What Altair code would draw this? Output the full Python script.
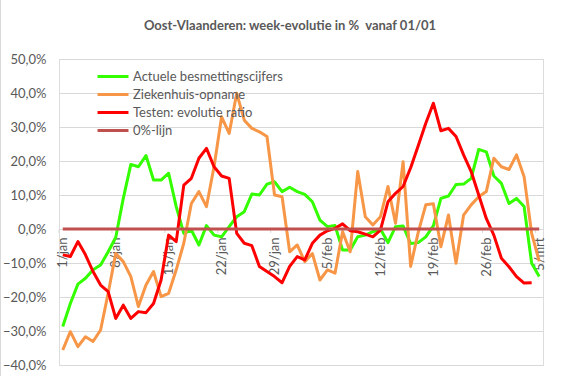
import altair as alt
import pandas as pd

# ---- data (week-evolutie in %, per dag vanaf 01/01) ----
x_labels = ["1/jan", "8/jan", "15/jan", "22/jan", "29/jan", "5/feb", "12/feb", "19/feb", "26/feb", "5/mrt"]
y_ticks = [-0.4, -0.3, -0.2, -0.1, 0.0, 0.1, 0.2, 0.3, 0.4, 0.5]

actuele = [-28.7, -21.9, -16.2, -14.5, -12.0, -10.6, -6.7, -2.5,
           9.0, 19.0, 18.3, 21.6, 14.4, 14.4, 16.4, 6.6,
           -1.3, -0.3, -4.7, 1.0, -1.8, -2.3, 0.7, 3.6,
           5.1, 10.3, 10.0, 13.2, 13.9, 11.0, 12.3, 11.0,
           10.2, 8.0, 2.6, 0.7, 1.0, -6.2, -6.2, -2.3,
           -1.8, -0.8, 0.0, -4.0, 0.7, 0.9, -4.3, -4.0,
           -2.3, 0.9, 9.0, 9.7, 13.1, 13.2, 14.9, 23.4,
           22.7, 15.6, 13.4, 7.5, 9.0, 6.6, -10.1, -14.0]

ziekenhuis = [-35.6, -30.2, -34.6, -31.7, -33.1, -29.7, -18.9, -7.2,
              -9.6, -14.0, -22.8, -16.5, -12.5, -19.9, -18.9, -12.0,
              -4.2, 7.5, 11.0, 6.6, 18.3, 33.0, 28.1, 39.9,
              32.0, 29.6, 28.6, 27.2, 10.0, 9.5, -6.7, -4.7,
              -9.6, -7.2, -15.0, -12.0, -13.0, -0.8, -6.7, 16.9,
              3.6, 1.2, 3.6, 12.5, 1.7, 19.8, -11.0, -1.0,
              7.1, 7.4, -5.2, 4.1, -10.1, 4.1, 7.1, 9.5,
              11.0, 20.8, 18.3, 17.5, 21.8, 15.4, -1.3, -9.5]

testen = [-7.6, -8.1, -3.7, -7.6, -12.5, -16.5, -18.4, -26.3,
          -22.4, -26.3, -24.3, -24.6, -21.9, -15.0, -1.8, -3.7,
          12.9, 14.9, 20.8, 23.7, 18.3, 15.6, 14.9, -1.3,
          -4.2, -4.9, -11.0, -12.5, -14.0, -15.8, -11.0, -8.1,
          -9.1, -4.2, -1.8, -0.5, 0.2, 1.5, -0.5, -0.8,
          -1.5, -2.3, -0.3, 8.0, 10.5, 12.5, 18.0, 24.5,
          31.1, 37.0, 28.9, 29.6, 27.2, 21.8, 16.9, 10.0,
          3.1, -1.8, -8.6, -11.1, -14.0, -15.9, -15.8, None]

nul_lijn = [0.0] * 64

series_names = ["Actuele besmettingscijfers", "Ziekenhuis-opname",
                "Testen: evolutie ratio", "0%-lijn"]
series_colors = ["#33FF00", "#F79646", "#FF0000", "#C0504D"]
series_widths = [3, 3, 3, 2]

# ---- build long table ----
rows = []
for name, vals in zip(series_names, [actuele, ziekenhuis, testen, nul_lijn]):
    for d, v in enumerate(vals):
        rows.append({"dag": d, "serie": name, "waarde": None if v is None else v / 100.0})
df = pd.DataFrame(rows)

n_days = len(actuele)
label_days = [7 * i for i in range(len(x_labels))]
tick_df = pd.DataFrame({"dag": [d - 0.5 for d in label_days], "waarde": 0.0, "w2": -0.012})

font = "Lato"
lab_arr = "[" + ",".join("'" + s + "'" for s in x_labels) + "]"

x_scale = alt.Scale(domain=[-0.5, n_days - 0.5], nice=False, zero=False)
x_axis = alt.Axis(values=label_days, labelExpr=lab_arr + "[round(datum.value/7)]",
                  labelAngle=-90, labelFontSize=13, labelColor="#595959",
                  labelFont=font, ticks=False, domain=False, grid=False,
                  labelPadding=8, offset=-136, title=None, labelOverlap=False)
y_scale = alt.Scale(domain=[-0.4, 0.5], nice=False)
y_axis = alt.Axis(values=y_ticks,
                  labelExpr="replace(format(datum.value, '.1%'), '.', ',')",
                  labelFontSize=13, labelColor="#595959", labelFont=font,
                  ticks=False, domain=False, gridColor="#D9D9D9",
                  labelPadding=13, title=None, labelOverlap=False)

x_enc = alt.X("dag:Q", scale=x_scale, axis=x_axis)
y_enc = alt.Y("waarde:Q", scale=y_scale, axis=y_axis)

color_enc = alt.Color("serie:N",
                      scale=alt.Scale(domain=series_names, range=series_colors),
                      legend=alt.Legend(title=None, orient="none", legendX=43, legendY=6.5,
                                        symbolType="M-1.63,0L1.63,0", symbolSize=361,
                                        labelFontSize=13, labelColor="#595959", labelFont=font,
                                        rowPadding=0, labelOffset=9, symbolStrokeWidth=3))
width_enc = alt.StrokeWidth("serie:N",
                            scale=alt.Scale(domain=series_names, range=series_widths),
                            legend=None)

base = alt.Chart(df)
layers = []
for name in series_names:
    layers.append(
        base.transform_filter(alt.datum.serie == name)
        .mark_line(strokeJoin="round")
        .encode(x=x_enc, y=y_enc, color=color_enc, strokeWidth=width_enc)
    )

ticks = alt.Chart(tick_df).mark_rule(color="#D9D9D9", strokeWidth=1).encode(
    x=x_enc, y=y_enc, y2="w2:Q")

# light chart-area border on the left edge (decoration)
border = alt.Chart(tick_df).mark_rule(color="#D9D9D9", strokeWidth=1).encode(
    x=alt.value(-58.5), y=alt.value(-59), y2=alt.value(317))

chart = alt.layer(border, ticks, *layers).properties(
    width=484, height=306,
    title=alt.TitleParams("Oost-Vlaanderen: week-evolutie in %\u00a0 vanaf 01/01",
                          font=font, fontSize=13, fontWeight="bold", color="#595959",
                          anchor="middle", dx=-11, offset=-33),
    autosize=alt.AutoSizeParams(type="none"),
    padding={"left": 59, "top": 59, "right": 38, "bottom": 11},
).configure_view(stroke=None).configure(background="white")

chart.save("out.html", embed_options={"renderer": "svg", "actions": False})
